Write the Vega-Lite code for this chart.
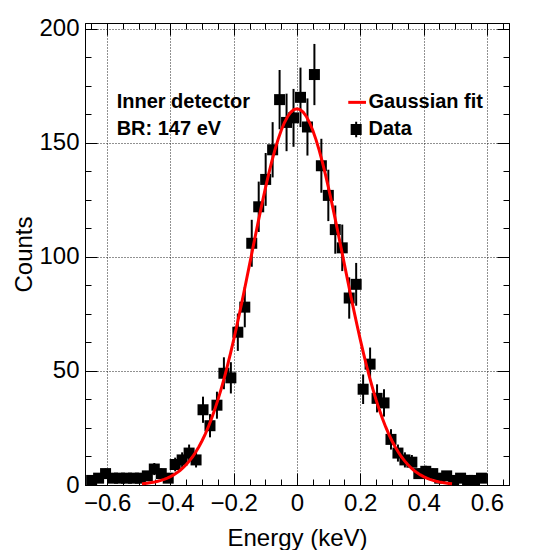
{
  "$schema": "https://vega.github.io/schema/vega-lite/v6.json",
  "width": 424,
  "height": 462,
  "autosize": "none",
  "padding": {"left": 85, "top": 23, "right": 39, "bottom": 65},
  "background": "white",
  "config": {
    "font": "Liberation Sans",
    "view": {"stroke": "black", "strokeWidth": 1},
    "axis": {
      "domainColor": "black", "domainWidth": 1,
      "tickColor": "black", "tickWidth": 1,
      "labelColor": "black", "labelFont": "Liberation Sans", "labelFontSize": 24,
      "titleColor": "black", "titleFont": "Liberation Sans", "titleFontSize": 24, "titleFontWeight": "normal",
      "labelFlush": false, "labelOverlap": false,
      "gridColor": "#222", "gridDash": [1, 2], "gridWidth": 1
    }
  },
  "datasets": {
    "hist": [
      {"e": -0.649, "n": 2, "err": 1.41},
      {"e": -0.627, "n": 3, "err": 1.73},
      {"e": -0.605, "n": 5, "err": 2.24},
      {"e": -0.583, "n": 3, "err": 1.73},
      {"e": -0.561, "n": 3, "err": 1.73},
      {"e": -0.539, "n": 3, "err": 1.73},
      {"e": -0.517, "n": 3, "err": 1.73},
      {"e": -0.495, "n": 3, "err": 1.73},
      {"e": -0.473, "n": 4, "err": 2},
      {"e": -0.451, "n": 7, "err": 2.65},
      {"e": -0.429, "n": 5, "err": 2.24},
      {"e": -0.407, "n": 3, "err": 1.73},
      {"e": -0.385, "n": 9, "err": 3},
      {"e": -0.363, "n": 11, "err": 3.32},
      {"e": -0.341, "n": 14, "err": 3.74},
      {"e": -0.319, "n": 11, "err": 3.32},
      {"e": -0.297, "n": 33, "err": 5.74},
      {"e": -0.275, "n": 26, "err": 5.10},
      {"e": -0.253, "n": 35, "err": 5.92},
      {"e": -0.231, "n": 49, "err": 7},
      {"e": -0.209, "n": 47, "err": 6.86},
      {"e": -0.187, "n": 67, "err": 8.19},
      {"e": -0.165, "n": 78, "err": 8.83},
      {"e": -0.143, "n": 106, "err": 10.30},
      {"e": -0.121, "n": 122, "err": 11.05},
      {"e": -0.099, "n": 134, "err": 11.58},
      {"e": -0.077, "n": 147, "err": 12.12},
      {"e": -0.055, "n": 169, "err": 13},
      {"e": -0.033, "n": 159, "err": 12.61},
      {"e": -0.011, "n": 161, "err": 12.69},
      {"e": 0.011, "n": 170, "err": 13.04},
      {"e": 0.033, "n": 157, "err": 12.53},
      {"e": 0.055, "n": 180, "err": 13.42},
      {"e": 0.077, "n": 140, "err": 11.83},
      {"e": 0.099, "n": 127, "err": 11.27},
      {"e": 0.121, "n": 112, "err": 10.58},
      {"e": 0.143, "n": 104, "err": 10.20},
      {"e": 0.165, "n": 82, "err": 9.06},
      {"e": 0.187, "n": 88, "err": 9.38},
      {"e": 0.209, "n": 42, "err": 6.48},
      {"e": 0.231, "n": 53, "err": 7.28},
      {"e": 0.253, "n": 38, "err": 6.16},
      {"e": 0.275, "n": 36, "err": 6},
      {"e": 0.297, "n": 20, "err": 4.47},
      {"e": 0.319, "n": 14, "err": 3.74},
      {"e": 0.341, "n": 11, "err": 3.32},
      {"e": 0.363, "n": 10, "err": 3.16},
      {"e": 0.385, "n": 5, "err": 2.24},
      {"e": 0.407, "n": 6, "err": 2.45},
      {"e": 0.429, "n": 5, "err": 2.24},
      {"e": 0.451, "n": 3, "err": 1.73},
      {"e": 0.473, "n": 4, "err": 2},
      {"e": 0.495, "n": 2, "err": 1.41},
      {"e": 0.517, "n": 3, "err": 1.73},
      {"e": 0.539, "n": 2, "err": 1.41},
      {"e": 0.561, "n": 2, "err": 1.41},
      {"e": 0.583, "n": 3, "err": 1.73}
    ],
    "fit": [
      {"e": -0.49, "f": 0.55}, {"e": -0.48, "f": 0.69}, {"e": -0.47, "f": 0.86}, {"e": -0.46, "f": 1.08},
      {"e": -0.45, "f": 1.34}, {"e": -0.44, "f": 1.65}, {"e": -0.43, "f": 2.03}, {"e": -0.42, "f": 2.49},
      {"e": -0.41, "f": 3.03}, {"e": -0.40, "f": 3.67}, {"e": -0.39, "f": 4.43}, {"e": -0.38, "f": 5.32},
      {"e": -0.37, "f": 6.36}, {"e": -0.36, "f": 7.57}, {"e": -0.35, "f": 8.96}, {"e": -0.34, "f": 10.56},
      {"e": -0.33, "f": 12.38}, {"e": -0.32, "f": 14.45}, {"e": -0.31, "f": 16.79}, {"e": -0.30, "f": 19.41},
      {"e": -0.29, "f": 22.33}, {"e": -0.28, "f": 25.57}, {"e": -0.27, "f": 29.15}, {"e": -0.26, "f": 33.06},
      {"e": -0.25, "f": 37.32}, {"e": -0.24, "f": 41.94}, {"e": -0.23, "f": 46.90}, {"e": -0.22, "f": 52.19},
      {"e": -0.21, "f": 57.81}, {"e": -0.20, "f": 63.73}, {"e": -0.19, "f": 69.93}, {"e": -0.18, "f": 76.36},
      {"e": -0.17, "f": 82.99}, {"e": -0.16, "f": 89.76}, {"e": -0.15, "f": 96.63}, {"e": -0.14, "f": 103.53},
      {"e": -0.13, "f": 110.39}, {"e": -0.12, "f": 117.15}, {"e": -0.11, "f": 123.74}, {"e": -0.10, "f": 130.08},
      {"e": -0.09, "f": 136.09}, {"e": -0.08, "f": 141.70}, {"e": -0.07, "f": 146.85}, {"e": -0.06, "f": 151.46},
      {"e": -0.05, "f": 155.48}, {"e": -0.04, "f": 158.84}, {"e": -0.03, "f": 161.51}, {"e": -0.02, "f": 163.44},
      {"e": -0.01, "f": 164.61}, {"e": 0.00, "f": 165.00}, {"e": 0.01, "f": 164.61}, {"e": 0.02, "f": 163.44},
      {"e": 0.03, "f": 161.51}, {"e": 0.04, "f": 158.84}, {"e": 0.05, "f": 155.48}, {"e": 0.06, "f": 151.46},
      {"e": 0.07, "f": 146.85}, {"e": 0.08, "f": 141.70}, {"e": 0.09, "f": 136.09}, {"e": 0.10, "f": 130.08},
      {"e": 0.11, "f": 123.74}, {"e": 0.12, "f": 117.15}, {"e": 0.13, "f": 110.39}, {"e": 0.14, "f": 103.53},
      {"e": 0.15, "f": 96.63}, {"e": 0.16, "f": 89.76}, {"e": 0.17, "f": 82.99}, {"e": 0.18, "f": 76.36},
      {"e": 0.19, "f": 69.93}, {"e": 0.20, "f": 63.73}, {"e": 0.21, "f": 57.81}, {"e": 0.22, "f": 52.19},
      {"e": 0.23, "f": 46.90}, {"e": 0.24, "f": 41.94}, {"e": 0.25, "f": 37.32}, {"e": 0.26, "f": 33.06},
      {"e": 0.27, "f": 29.15}, {"e": 0.28, "f": 25.57}, {"e": 0.29, "f": 22.33}, {"e": 0.30, "f": 19.41},
      {"e": 0.31, "f": 16.79}, {"e": 0.32, "f": 14.45}, {"e": 0.33, "f": 12.38}, {"e": 0.34, "f": 10.56},
      {"e": 0.35, "f": 8.96}, {"e": 0.36, "f": 7.57}, {"e": 0.37, "f": 6.36}, {"e": 0.38, "f": 5.32},
      {"e": 0.39, "f": 4.43}, {"e": 0.40, "f": 3.67}, {"e": 0.41, "f": 3.03}, {"e": 0.42, "f": 2.49},
      {"e": 0.43, "f": 2.03}, {"e": 0.44, "f": 1.65}, {"e": 0.45, "f": 1.34}, {"e": 0.46, "f": 1.08},
      {"e": 0.47, "f": 0.86}, {"e": 0.48, "f": 0.69}, {"e": 0.49, "f": 0.55}
    ]
  },
  "resolve": {"axis": {"x": "independent", "y": "independent"}},
  "layer": [
    {
      "data": {"name": "hist"},
      "mark": {"type": "errorbar", "color": "black", "thickness": 2},
      "encoding": {
        "x": {"field": "e", "type": "quantitative", "scale": {"domain": [-0.67, 0.67], "nice": false, "zero": false}, "axis": null},
        "y": {"field": "n", "type": "quantitative", "scale": {"domain": [0, 202.6], "nice": false, "zero": false}, "axis": null},
        "yError": {"field": "err"}
      }
    },
    {
      "data": {"name": "hist"},
      "mark": {"type": "point", "shape": "square", "filled": true, "size": 121, "color": "black", "opacity": 1, "strokeWidth": 0},
      "encoding": {
        "x": {
          "field": "e", "type": "quantitative",
          "scale": {"domain": [-0.67, 0.67], "nice": false, "zero": false},
          "axis": {
            "orient": "bottom",
            "title": "Energy (keV)",
            "values": [-0.65, -0.6, -0.55, -0.5, -0.45, -0.4, -0.35, -0.3, -0.25, -0.2, -0.15, -0.1, -0.05, 0, 0.05, 0.1, 0.15, 0.2, 0.25, 0.3, 0.35, 0.4, 0.45, 0.5, 0.55, 0.6, 0.65],
            "labelExpr": "abs(datum.value*5 - round(datum.value*5)) < 0.000001 ? (abs(datum.value) < 0.000001 ? '0' : format(datum.value, '.1f')) : ''",
            "tickSize": {"condition": {"test": "abs(datum.value*5 - round(datum.value*5)) < 0.000001", "value": -12}, "value": -6},
            "grid": true,
            "gridOpacity": {"condition": {"test": "abs(datum.value*5 - round(datum.value*5)) < 0.000001", "value": 1}, "value": 0},
            "labelPadding": 18,
            "titlePadding": 5
          }
        },
        "y": {
          "field": "n", "type": "quantitative",
          "scale": {"domain": [0, 202.6], "nice": false, "zero": false},
          "axis": {
            "orient": "left",
            "title": "Counts",
            "values": [0, 12.5, 25, 37.5, 50, 62.5, 75, 87.5, 100, 112.5, 125, 137.5, 150, 162.5, 175, 187.5, 200],
            "labelExpr": "datum.value % 50 == 0 ? format(datum.value, 'd') : ''",
            "tickSize": {"condition": {"test": "datum.value % 50 == 0", "value": -12}, "value": -6},
            "grid": true,
            "gridOpacity": {"condition": {"test": "datum.value % 50 == 0", "value": 1}, "value": 0},
            "labelPadding": 18,
            "titlePadding": 2
          }
        }
      }
    },
    {
      "data": {"name": "fit"},
      "mark": {"type": "line", "color": "#ff0000", "strokeWidth": 3},
      "encoding": {
        "x": {
          "field": "e", "type": "quantitative",
          "scale": {"domain": [-0.67, 0.67], "nice": false, "zero": false},
          "axis": {
            "orient": "top", "title": null, "labels": false, "grid": false,
            "values": [-0.65, -0.6, -0.55, -0.5, -0.45, -0.4, -0.35, -0.3, -0.25, -0.2, -0.15, -0.1, -0.05, 0, 0.05, 0.1, 0.15, 0.2, 0.25, 0.3, 0.35, 0.4, 0.45, 0.5, 0.55, 0.6, 0.65],
            "tickSize": {"condition": {"test": "abs(datum.value*5 - round(datum.value*5)) < 0.000001", "value": -12}, "value": -6}
          }
        },
        "y": {
          "field": "f", "type": "quantitative",
          "scale": {"domain": [0, 202.6], "nice": false, "zero": false},
          "axis": {
            "orient": "right", "title": null, "labels": false, "grid": false,
            "values": [0, 12.5, 25, 37.5, 50, 62.5, 75, 87.5, 100, 112.5, 125, 137.5, 150, 162.5, 175, 187.5, 200],
            "tickSize": {"condition": {"test": "datum.value % 50 == 0", "value": -12}, "value": -6}
          }
        }
      }
    },
    {
      "data": {"values": [{}]},
      "mark": {"type": "text", "text": "Inner detector", "align": "left", "baseline": "alphabetic", "font": "Liberation Sans", "fontWeight": "bold", "fontSize": 20, "color": "black"},
      "encoding": {
        "x": {"datum": -0.57, "type": "quantitative", "axis": null},
        "y": {"datum": 165.4, "type": "quantitative", "axis": null}
      }
    },
    {
      "data": {"values": [{}]},
      "mark": {"type": "text", "text": "BR: 147 eV", "align": "left", "baseline": "alphabetic", "font": "Liberation Sans", "fontWeight": "bold", "fontSize": 20, "color": "black"},
      "encoding": {
        "x": {"datum": -0.57, "type": "quantitative", "axis": null},
        "y": {"datum": 153.5, "type": "quantitative", "axis": null}
      }
    },
    {
      "data": {"values": [{}]},
      "mark": {"type": "rule", "color": "#ff0000", "strokeWidth": 3},
      "encoding": {
        "x": {"datum": 0.162, "type": "quantitative", "axis": null},
        "x2": {"datum": 0.218},
        "y": {"datum": 167.8, "type": "quantitative", "axis": null}
      }
    },
    {
      "data": {"values": [{}]},
      "mark": {"type": "rule", "color": "black", "strokeWidth": 2},
      "encoding": {
        "x": {"datum": 0.187, "type": "quantitative", "axis": null},
        "y": {"datum": 152.5, "type": "quantitative", "axis": null},
        "y2": {"datum": 159.3}
      }
    },
    {
      "data": {"values": [{}]},
      "mark": {"type": "point", "shape": "square", "filled": true, "size": 121, "color": "black", "opacity": 1, "strokeWidth": 0},
      "encoding": {
        "x": {"datum": 0.187, "type": "quantitative", "axis": null},
        "y": {"datum": 155.9, "type": "quantitative", "axis": null}
      }
    },
    {
      "data": {"values": [{}]},
      "mark": {"type": "text", "text": "Gaussian fit", "align": "left", "baseline": "alphabetic", "font": "Liberation Sans", "fontWeight": "bold", "fontSize": 20, "color": "black"},
      "encoding": {
        "x": {"datum": 0.226, "type": "quantitative", "axis": null},
        "y": {"datum": 165.4, "type": "quantitative", "axis": null}
      }
    },
    {
      "data": {"values": [{}]},
      "mark": {"type": "text", "text": "Data", "align": "left", "baseline": "alphabetic", "font": "Liberation Sans", "fontWeight": "bold", "fontSize": 20, "color": "black"},
      "encoding": {
        "x": {"datum": 0.226, "type": "quantitative", "axis": null},
        "y": {"datum": 153.5, "type": "quantitative", "axis": null}
      }
    }
  ]
}
